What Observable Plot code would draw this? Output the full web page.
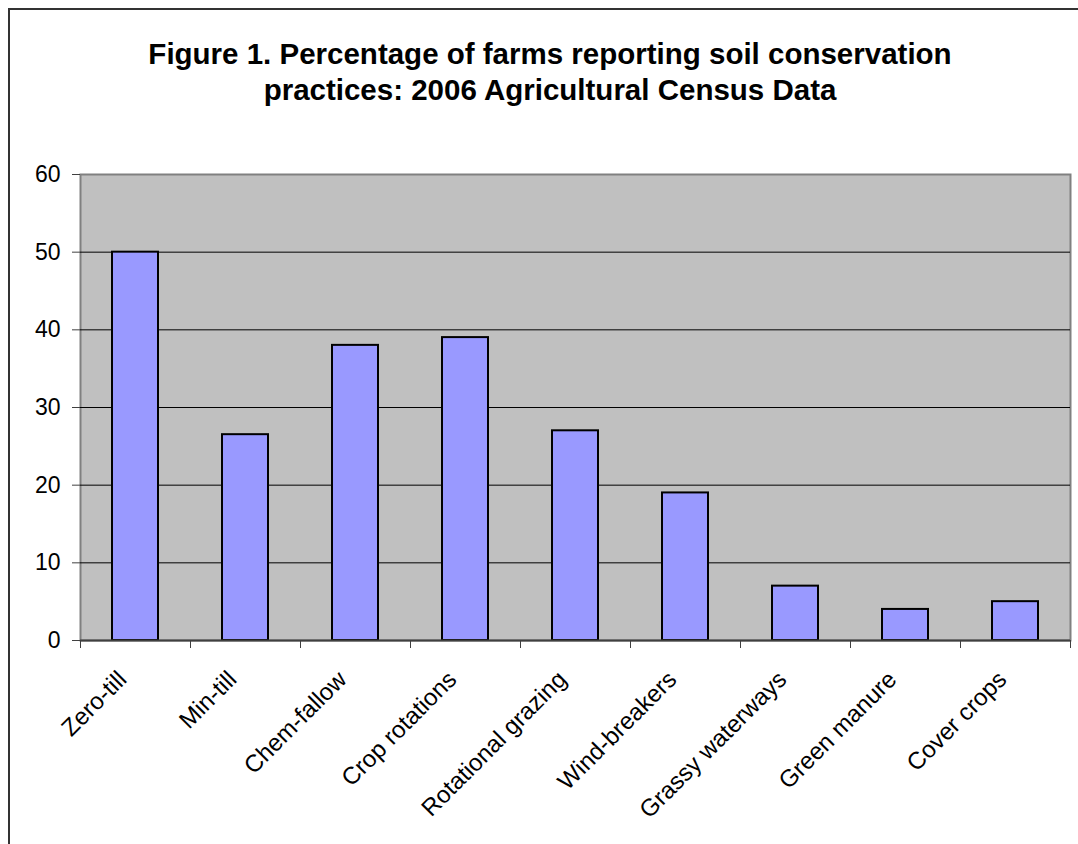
<!DOCTYPE html>
<html>
<head>
<meta charset="utf-8">
<script src="https://cdn.jsdelivr.net/npm/d3@7"></script>
<script src="https://cdn.jsdelivr.net/npm/@observablehq/plot@0.6"></script>
<style>
  html, body { margin: 0; padding: 0; background: white; overflow: hidden; }
  body { width: 1078px; height: 844px; position: relative; font-family: "Liberation Sans", Arial, sans-serif; }
  #frame { position: absolute; left: 8px; top: 8px; width: 1200px; height: 1000px; border: 2px solid #333; box-sizing: border-box; }
  #title { position: absolute; left: 0; top: 36px; width: 1100px; text-align: center; font-weight: bold; font-size: 29.5px; line-height: 36px; color: black; }
  #chart { position: absolute; left: 0; top: 110px; }
</style>
</head>
<body>
<div id="frame"></div>
<div id="chart"></div>
<div id="title">Figure 1. Percentage of farms reporting soil conservation<br>practices: 2006 Agricultural Census Data</div>
<script>
const categories = ["Zero-till", "Min-till", "Chem-fallow", "Crop rotations", "Rotational grazing", "Wind-breakers", "Grassy waterways", "Green manure", "Cover crops"];
const values = [50, 26.5, 38, 39, 27, 19, 7, 4, 5];
const yTicks = [0, 10, 20, 30, 40, 50, 60];
const gridValues = [10, 20, 30, 40, 50];

const data = categories.map((c, i) => ({category: c, value: values[i]}));

const chart = Plot.plot({
  width: 1078,
  height: 734,
  marginLeft: 80,
  marginRight: 8,
  marginTop: 64,
  marginBottom: 204,
  style: {background: "transparent", fontFamily: "'Liberation Sans', Arial, sans-serif", fontSize: "22px", color: "black"},
  x: {type: "band", domain: categories, padding: 0, label: null},
  y: {domain: [0, 60], label: null},
  marks: [
    Plot.frame({fill: "#c0c0c0", stroke: "#808080", strokeWidth: 2}),
    Plot.ruleY(gridValues, {stroke: "black", strokeWidth: 1}),
    Plot.barY(data, {x: "category", y: "value", fill: "#9999ff", stroke: "black", strokeWidth: 2, insetLeft: 32, insetRight: 32}),
    Plot.ruleY([0], {stroke: "#404040", strokeWidth: 2}),
    Plot.axisY({ticks: yTicks, tickSize: 8, tickPadding: 12, fontSize: 23, stroke: "#404040", fill: "black", label: null}),
    Plot.axisX({tickSize: 8, tickFormat: () => "", dx: -55, stroke: "#404040", label: null}),
    Plot.axisX([categories[categories.length - 1]], {tickSize: 8, tickFormat: () => "", dx: 55, stroke: "#404040", label: null}),
    Plot.axisX({tickSize: 0, tickRotate: -45, tickPadding: 24, textAnchor: "end", fontSize: 24, fill: "black", label: null, dx: -13, dy: 11})
  ]
});
document.getElementById("chart").appendChild(chart);
</script>
</body>
</html>
